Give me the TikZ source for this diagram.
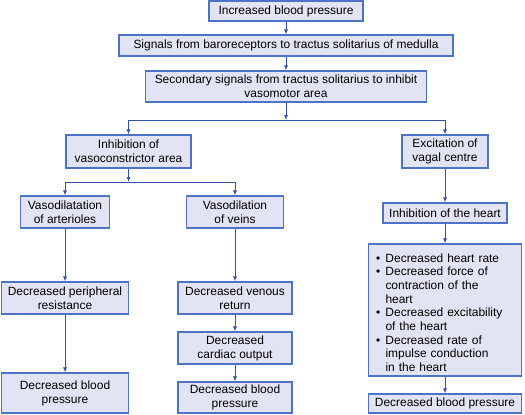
\documentclass[tikz,border=0pt]{standalone}
\usepackage{fontspec}
\setmainfont{Liberation Sans}
\usetikzlibrary{arrows.meta}
\definecolor{boxfill}{HTML}{E2E4F3}
\definecolor{boxline}{HTML}{4E72C6}
\definecolor{arrline}{HTML}{3052AA}
\newcommand\hbul[1]{\par\hangindent=9.5bp\hangafter=1\noindent\makebox[9.5bp][l]{\textbullet}#1}
\begin{document}
\begin{tikzpicture}[x=1bp,y=-1bp,
  bx/.style={draw=boxline, fill=boxfill, line width=1.1pt, inner sep=0pt,
    align=center, font=\fontsize{12}{14}\selectfont},
  arr/.style={draw=arrline, line width=1pt, -{Latex[length=5pt,width=4pt]}},
  lst/.style={draw=boxline, fill=boxfill, line width=1.1pt, inner sep=0pt,
    font=\fontsize{12}{13.75}\selectfont}]
\useasboundingbox (0,0) rectangle (525,414);
\node[bx, minimum width=154bp, minimum height=20bp] (inc) at (286,11){Increased blood pressure};
\node[bx, minimum width=334bp, minimum height=21bp] (sig) at (286,45.5){Signals from baroreceptors to tractus solitarius of medulla};
\node[bx, minimum width=281bp, minimum height=31bp] (sec) at (286,86.5){Secondary signals from tractus solitarius to inhibit\\ vasomotor area};
\draw[arr](inc) -- (sig);
\draw[arr](sig) -- (sec);
\coordinate (j1) at (286,120);
\draw[arr](sec) -- (j1);
\node[bx, minimum width=125bp, minimum height=33bp] (inhib) at (128.5,151.5){Inhibition of\\ vasoconstrictor area};
\node[bx, minimum width=86bp, minimum height=33bp] (excit) at (445,151.5){Excitation of\\ vagal centre};
\draw[arr](j1) -| (inhib);
\draw[arr](j1) -| (excit);
\coordinate (j2) at (128.5,182);
\draw[arr](inhib) -- (j2);
\node[bx, minimum width=89bp, minimum height=32bp] (arter) at (65,212){Vasodilatation\\ of arterioles};
\node[bx, minimum width=97bp, minimum height=32bp] (veins) at (235,212){Vasodilation\\ of veins};
\draw[arr](j2) -| (arter);
\draw[arr](j2) -| (veins);
\node[bx, minimum width=127bp, minimum height=32bp] (periph) at (65,298){Decreased peripheral\\ resistance};
\node[bx, minimum width=127bp, minimum height=40bp] (dbp1) at (65,393){Decreased blood\\ pressure};
\draw[arr](arter) -- (periph);
\draw[arr](periph) -- (dbp1);
\node[bx, minimum width=114bp, minimum height=32bp] (venous) at (235,298){Decreased venous\\ return};
\node[bx, minimum width=114bp, minimum height=32bp] (cardiac) at (235,348){Decreased\\ cardiac output};
\node[bx, minimum width=114bp, minimum height=31bp] (dbp2) at (235,397.5){Decreased blood\\ pressure};
\draw[arr](veins) -- (venous);
\draw[arr](venous) -- (cardiac);
\draw[arr](cardiac) -- (dbp2);
\node[bx, minimum width=124bp, minimum height=20bp] (heart) at (445,213){Inhibition of the heart};
\node[lst, minimum width=153bp, minimum height=132bp, text width=138bp] (rates) at (445,310){\raggedright
\hbul{Decreased heart rate}
\hbul{Decreased force of\newline contraction of the\newline heart}
\hbul{Decreased excitability\newline of the heart}
\hbul{Decreased rate of\newline impulse conduction\newline in the heart}\par};
\node[bx, minimum width=153bp, minimum height=19bp] (dbp3) at (445,403.5){Decreased blood pressure};
\draw[arr](excit) -- (heart);
\draw[arr](heart) -- (rates);
\draw[arr](rates) -- (dbp3);
\end{tikzpicture}
\end{document}
